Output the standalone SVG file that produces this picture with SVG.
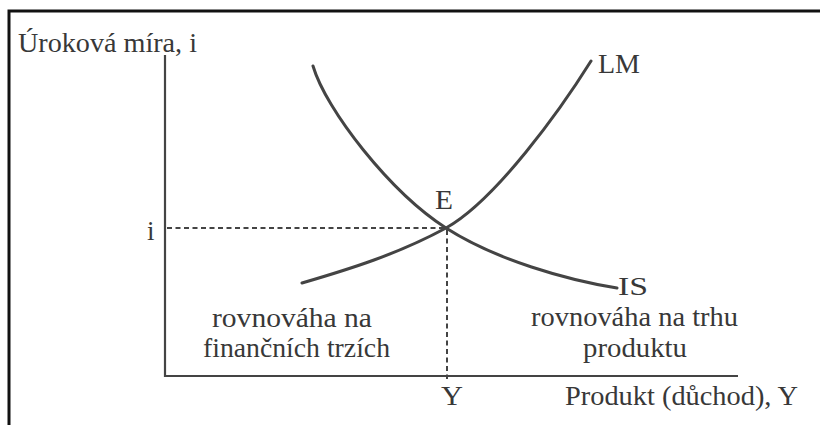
<svg xmlns="http://www.w3.org/2000/svg" width="820" height="425" viewBox="0 0 820 425">
<style>
text{font-family:"Liberation Serif","Times New Roman",serif;font-size:27px;fill:#383838}
.axis{stroke:#444;stroke-width:2.2;fill:none}
.curve{stroke:#444;stroke-width:3;fill:none;stroke-linecap:round}
.dash{stroke:#444;stroke-width:2;fill:none;stroke-dasharray:5 3.5}
.frame{stroke:#111;stroke-width:3;fill:none}
</style>
<rect width="820" height="425" fill="#fff"/>
<path class="frame" d="M9 425 V11 H820"/>
<g id="axes">
<line class="axis" x1="165" y1="55" x2="165" y2="377"/>
<line class="axis" x1="164" y1="376" x2="738" y2="376"/>
<text x="18" y="52" textLength="179" lengthAdjust="spacingAndGlyphs">Úroková míra, i</text>
<text x="565" y="405" textLength="233" lengthAdjust="spacingAndGlyphs">Produkt (důchod), Y</text>
</g>
<g id="connectors">
<line class="dash" x1="167" y1="228" x2="446" y2="228"/>
<line class="dash" x1="447" y1="230" x2="447" y2="379"/>
</g>
<g id="IS">
<path class="curve" d="M313 66 C326 110 390 192 446 228 C496 260 567 280 617 288"/>
<text x="618" y="295" style="font-size:26px" textLength="30" lengthAdjust="spacingAndGlyphs">IS</text>
</g>
<g id="LM">
<path class="curve" d="M302 283 C350 269 398 254 446 228 C496 200 561 109 591 61"/>
<text x="598" y="73" textLength="42" lengthAdjust="spacingAndGlyphs">LM</text>
</g>
<g id="E">
<text x="435" y="209" textLength="18" lengthAdjust="spacingAndGlyphs">E</text>
</g>
<g id="i-label">
<text x="147" y="240">i</text>
</g>
<g id="Y-label">
<text x="441" y="405" textLength="22" lengthAdjust="spacingAndGlyphs">Y</text>
</g>
<g id="financial-label">
<text x="212" y="327" textLength="160" lengthAdjust="spacingAndGlyphs">rovnováha na</text>
<text x="203" y="357" textLength="187" lengthAdjust="spacingAndGlyphs">finančních trzích</text>
</g>
<g id="product-label">
<text x="531" y="326" textLength="207" lengthAdjust="spacingAndGlyphs">rovnováha na trhu</text>
<text x="583" y="357" textLength="104" lengthAdjust="spacingAndGlyphs">produktu</text>
</g>
</svg>
